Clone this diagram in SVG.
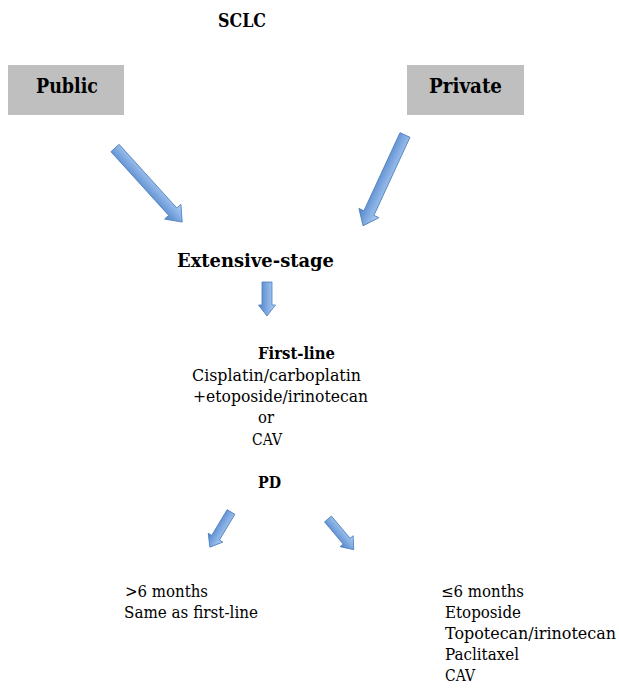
<svg xmlns="http://www.w3.org/2000/svg" width="619" height="688" viewBox="0 0 619 688">
<style>
.b{font-family:"DejaVu Serif","Liberation Serif",serif;font-weight:bold;fill:#000}
.t{font-family:"DejaVu Serif","Liberation Serif",serif;font-size:16px;fill:#000}
.box{fill:#bfbfbf}
.arr{fill:url(#g);stroke:#4a7ebb;stroke-width:0.8}
</style>
<defs>
<linearGradient id="g" x1="0" y1="0" x2="0" y2="1">
<stop offset="0" stop-color="#b3d1f5"/>
<stop offset="0.5" stop-color="#7fa9e0"/>
<stop offset="1" stop-color="#4f81c9"/>
</linearGradient>
</defs>
<g id="sclc"><text class="b" x="218" y="27" font-size="19" textLength="48" lengthAdjust="spacingAndGlyphs">SCLC</text></g>
<g id="public"><rect class="box" x="8" y="65" width="116" height="50"/><text class="b" x="36" y="93" font-size="20" textLength="62" lengthAdjust="spacingAndGlyphs">Public</text></g>
<g id="private"><rect class="box" x="407" y="65" width="117" height="50"/><text class="b" x="429" y="93" font-size="20" textLength="73" lengthAdjust="spacingAndGlyphs">Private</text></g>
<g id="extensive"><text class="b" x="177" y="267" font-size="19" textLength="157" lengthAdjust="spacingAndGlyphs">Extensive-stage</text></g>
<g id="firstline">
<text class="b" x="258" y="359" font-size="16" textLength="77" lengthAdjust="spacingAndGlyphs">First-line</text>
<text class="t" x="192" y="381" textLength="169" lengthAdjust="spacingAndGlyphs">Cisplatin/carboplatin</text>
<text class="t" x="193" y="402" textLength="175" lengthAdjust="spacingAndGlyphs">+etoposide/irinotecan</text>
<text class="t" x="258" y="423" textLength="16" lengthAdjust="spacingAndGlyphs">or</text>
<text class="t" x="252" y="445" textLength="30" lengthAdjust="spacingAndGlyphs">CAV</text>
</g>
<g id="pd"><text class="b" x="258" y="488" font-size="16" textLength="23" lengthAdjust="spacingAndGlyphs">PD</text></g>
<g id="gt6">
<text class="t" x="125" y="597" textLength="83" lengthAdjust="spacingAndGlyphs">&gt;6 months</text>
<text class="t" x="124" y="618" textLength="134" lengthAdjust="spacingAndGlyphs">Same as first-line</text>
</g>
<g id="le6">
<text class="t" x="441" y="597" textLength="83" lengthAdjust="spacingAndGlyphs">≤6 months</text>
<text class="t" x="445" y="618" textLength="76" lengthAdjust="spacingAndGlyphs">Etoposide</text>
<text class="t" x="445" y="639" textLength="171" lengthAdjust="spacingAndGlyphs">Topotecan/irinotecan</text>
<text class="t" x="445" y="660" textLength="74" lengthAdjust="spacingAndGlyphs">Paclitaxel</text>
<text class="t" x="445" y="681" textLength="30" lengthAdjust="spacingAndGlyphs">CAV</text>
</g>
<g id="connectors">
<polygon class="arr" transform="translate(115,148) rotate(47.8)" points="0,-5.5 86,-5.5 86,-11 100,0 86,11 86,5.5 0,5.5"/>
<polygon class="arr" transform="translate(405,135) rotate(114.8)" points="0,-5.5 86,-5.5 86,-11 100,0 86,11 86,5.5 0,5.5"/>
<polygon class="arr" transform="translate(267,282) rotate(90)" points="0,-5 23,-5 23,-8.5 34,0 23,8.5 23,5 0,5"/>
<polygon class="arr" transform="translate(231,512) rotate(121)" points="0,-4.5 30,-4.5 30,-8.5 41,0 30,8.5 30,4.5 0,4.5"/>
<polygon class="arr" transform="translate(328,519) rotate(50)" points="0,-4.5 29,-4.5 29,-8.5 40,0 29,8.5 29,4.5 0,4.5"/>
</g>
</svg>
